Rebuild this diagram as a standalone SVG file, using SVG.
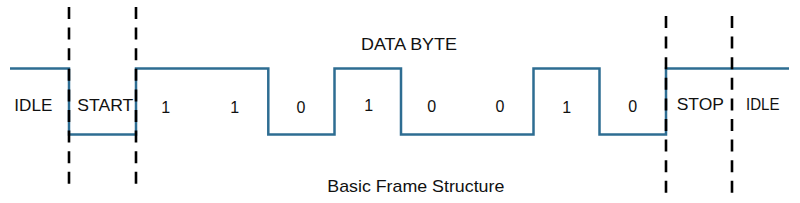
<svg xmlns="http://www.w3.org/2000/svg" width="800" height="203" viewBox="0 0 800 203">
<style>
.sig{fill:none;stroke:#2e6d92;stroke-width:2.5;stroke-linejoin:miter}
.div{stroke:#000;stroke-width:2.6;stroke-dasharray:12 8.6;fill:none}
text{font-family:"Liberation Sans",Arial,sans-serif;fill:#111}
.lbl{font-size:17px}
.bit{font-size:16px;text-anchor:middle}
</style>
<rect width="800" height="203" fill="#fff"/>
<g id="connectors">
<path id="signal" class="sig" d="M10,68.5 H69 V134.5 H136 V68.5 H268.3 V134.5 H334.5 V68.5 H401 V134.5 H533.5 V68.5 H599.5 V134.5 H666 V68.5 H789"/>
<line class="div" x1="69" y1="7" x2="69" y2="184"/>
<line class="div" x1="136" y1="7" x2="136" y2="184"/>
<line class="div" x1="666" y1="16" x2="666" y2="194"/>
<line class="div" x1="732" y1="16" x2="732" y2="194"/>
</g>
<g id="idle-left"><text class="lbl" x="14.3" y="110.5" textLength="38" lengthAdjust="spacingAndGlyphs">IDLE</text></g>
<g id="start"><text class="lbl" x="77.3" y="110.5" textLength="56" lengthAdjust="spacingAndGlyphs">START</text></g>
<g id="data-byte"><text class="lbl" x="361" y="49.5" textLength="96" lengthAdjust="spacingAndGlyphs">DATA BYTE</text></g>
<g id="bits">
<text class="bit" x="165.6" y="113">1</text>
<text class="bit" x="234.6" y="113">1</text>
<text class="bit" x="301" y="113">0</text>
<text class="bit" x="368.8" y="111">1</text>
<text class="bit" x="431.7" y="112">0</text>
<text class="bit" x="500" y="112">0</text>
<text class="bit" x="566.6" y="112.5">1</text>
<text class="bit" x="632.7" y="112">0</text>
</g>
<g id="stop"><text class="lbl" x="676.7" y="110" textLength="47.3" lengthAdjust="spacingAndGlyphs">STOP</text></g>
<g id="idle-right"><text class="lbl" x="746" y="110" textLength="33.5" lengthAdjust="spacingAndGlyphs">IDLE</text></g>
<g id="caption"><text class="lbl" x="327.3" y="192" textLength="177" lengthAdjust="spacingAndGlyphs">Basic Frame Structure</text></g>
</svg>
